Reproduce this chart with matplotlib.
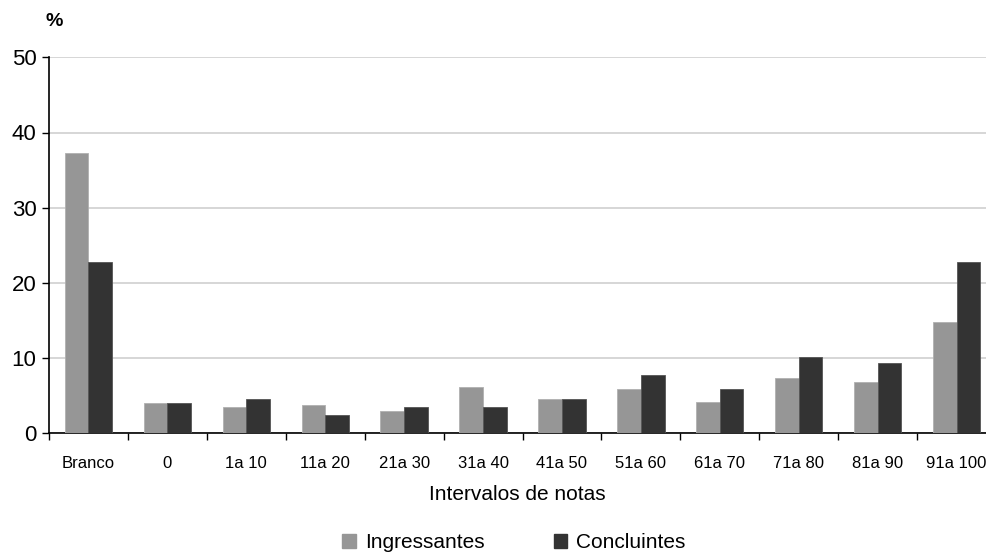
import matplotlib
matplotlib.use("Agg")
import matplotlib.pyplot as plt
import numpy as np
from matplotlib.patches import Patch

categories = ["Branco", "0", "1a 10", "11a 20", "21a 30", "31a 40", "41a 50",
              "51a 60", "61a 70", "71a 80", "81a 90", "91a 100"]
ingressantes = [37.3, 4.0, 3.5, 3.7, 3.0, 6.1, 4.5, 5.9, 4.2, 7.3, 6.8, 14.8]
concluintes = [22.8, 4.0, 4.5, 2.4, 3.5, 3.5, 4.5, 7.8, 5.9, 10.2, 9.4, 22.8]
series_names = ["Ingressantes", "Concluintes"]
colors = ["#969696", "#333333"]

plt.rcParams['font.family'] = ['Liberation Sans', 'DejaVu Sans']

fig = plt.figure(figsize=(9.87, 5.58), dpi=100)
W, H = 987, 558
left, right = 49, 996
bottom, top = 433.3, 57.3
ax = fig.add_axes([left / W, 1 - bottom / H, (right - left) / W, (bottom - top) / H])

x = np.arange(len(categories))
w = 0.30
ax.bar(x - w / 2, ingressantes, width=w, color=colors[0], edgecolor="#b0b0b0", linewidth=0.6, zorder=3)
ax.bar(x + w / 2, concluintes, width=w, color=colors[1], edgecolor="#555555", linewidth=0.6, zorder=3)

ax.set_xlim(-0.5, len(categories) - 0.5)
ax.set_ylim(0, 50)
ax.set_yticks([0, 10, 20, 30, 40, 50])
ax.yaxis.grid(True, color="#d0d0d0", linewidth=1.2, zorder=0)
ax.set_axisbelow(True)

ax.set_xticks(np.arange(len(categories) + 1) - 0.5)
ax.set_xticklabels([])
ax.set_xticks(x, minor=True)
ax.set_xticklabels(categories, minor=True, fontsize=12)
ax.tick_params(axis="x", which="minor", length=0, pad=16)
ax.tick_params(axis="x", which="major", length=5, direction="out", width=1)
ax.tick_params(axis="y", length=5, direction="out", width=1, labelsize=16, pad=4)

for s in ["top", "right"]:
    ax.spines[s].set_visible(False)
ax.spines["left"].set_linewidth(1.2)
ax.spines["bottom"].set_linewidth(1.2)

fig.text(54 / W, 1 - 21 / H, "%", fontsize=14, fontweight="bold", ha="center", va="center")
fig.text(517 / W, 1 - 494 / H, "Intervalos de notas", fontsize=15, ha="center", va="center")

handles = [Patch(facecolor=c, edgecolor=c) for c in colors]
fig.legend(handles, series_names, loc="center", bbox_to_anchor=(514 / W, 1 - 543 / H),
           ncol=2, frameon=False, fontsize=15, handlelength=0.65, handleheight=0.65,
           handletextpad=0.45, columnspacing=3.3, borderaxespad=0, borderpad=0)

fig.savefig("out.png", dpi=100)
